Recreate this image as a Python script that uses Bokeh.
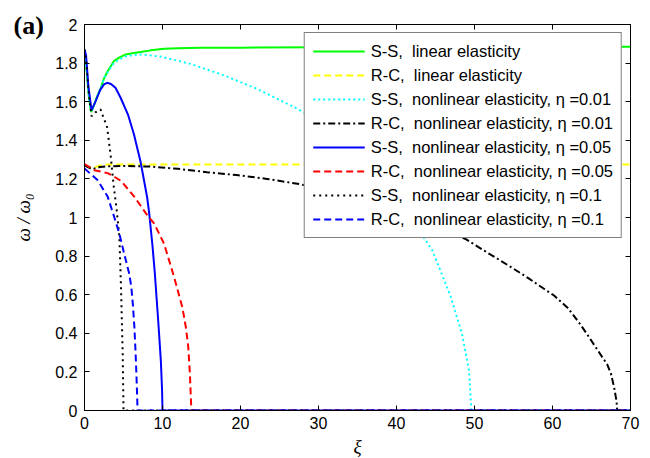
from bokeh.plotting import figure
from bokeh.models import LinearAxis, FixedTicker
from bokeh.embed import file_html
from bokeh.resources import INLINE

# ---------------- data ----------------
x_ticks = [0, 10, 20, 30, 40, 50, 60, 70]
y_ticks = [0, 0.2, 0.4, 0.6, 0.8, 1.0, 1.2, 1.4, 1.6, 1.8, 2.0]
y_tick_labels = ["0", "0.2", "0.4", "0.6", "0.8", "1", "1.2", "1.4", "1.6", "1.8", "2"]

# S-S, linear elasticity
ss_lin_x = [0, 0.2, 0.4, 0.6, 0.86, 1.2, 1.6, 2.05, 2.5, 3.0, 3.76, 4.5, 5.3, 6.3, 7.2, 8.5, 10.2, 12, 14.9, 20, 30, 40, 50, 60, 70]
ss_lin_y = [1.87, 1.80, 1.70, 1.61, 1.546, 1.58, 1.625, 1.667, 1.72, 1.76, 1.81, 1.83, 1.845, 1.852, 1.857, 1.866, 1.874, 1.877, 1.879, 1.88, 1.882, 1.883, 1.884, 1.885, 1.885]

# R-C, linear elasticity
rc_lin_x = [0, 1, 2, 3, 70]
rc_lin_y = [1.27, 1.255, 1.27, 1.275, 1.275]

# S-S, nonlinear, eta = 0.01
ss_001_x = [0, 0.2, 0.4, 0.6, 0.86, 1.2, 1.6, 2.05, 2.5, 3.0, 3.76, 4.5, 5.3, 6.3, 7.2, 9.74, 13.6, 17.9, 22.1, 27.3, 30, 33, 36, 39, 42, 44.6, 46.9, 48.4, 49.3, 49.6, 70]
ss_001_y = [1.87, 1.80, 1.70, 1.61, 1.546, 1.58, 1.625, 1.667, 1.72, 1.755, 1.80, 1.82, 1.835, 1.842, 1.845, 1.834, 1.796, 1.736, 1.667, 1.563, 1.50, 1.41, 1.30, 1.16, 0.99, 0.829, 0.596, 0.397, 0.207, 0.0, 0.0]

# R-C, nonlinear, eta = 0.01
rc_001_x = [0, 0.5, 1, 2, 3, 5, 8.46, 12, 15.7, 19.5, 23.4, 27.3, 32, 37, 42, 46, 49, 51.2, 53, 55, 57, 59, 60.2, 62, 63.5, 64.4, 65.5, 66.4, 67.0, 67.5, 67.9, 68.2, 68.3, 70]
rc_001_y = [1.27, 1.26, 1.25, 1.262, 1.265, 1.267, 1.264, 1.252, 1.235, 1.22, 1.20, 1.175, 1.135, 1.085, 1.02, 0.945, 0.885, 0.829, 0.785, 0.735, 0.683, 0.628, 0.596, 0.53, 0.45, 0.397, 0.33, 0.275, 0.24, 0.19, 0.12, 0.05, 0.0, 0.0]

# S-S, nonlinear, eta = 0.05
ss_005_x = [0, 0.2, 0.5, 0.9, 1.4, 2.0, 2.5, 2.9, 3.4, 3.97, 4.6, 5.6, 6.32, 7.18, 8.03, 8.3, 8.7, 9.0, 9.45, 9.79, 9.95, 10.0, 70]
ss_005_y = [1.87, 1.84, 1.68, 1.555, 1.60, 1.66, 1.69, 1.698, 1.692, 1.672, 1.623, 1.53, 1.434, 1.29, 1.105, 1.02, 0.86, 0.72, 0.465, 0.257, 0.10, 0.0, 0.0]

# R-C, nonlinear, eta = 0.05
rc_005_x = [0, 1.28, 2.98, 4.68, 6.4, 7.9, 8.94, 10.2, 11.5, 12.55, 13.0, 13.3, 13.5, 13.62, 13.7, 70]
rc_005_y = [1.277, 1.245, 1.23, 1.19, 1.107, 1.02, 0.968, 0.864, 0.69, 0.534, 0.43, 0.33, 0.2, 0.08, 0.0, 0.0]

# S-S, nonlinear, eta = 0.1
ss_01_x = [0, 0.2, 0.5, 0.9, 1.4, 2.05, 2.9, 3.33, 3.76, 4.1, 4.47, 4.68, 4.9, 5.0, 70]
ss_01_y = [1.87, 1.82, 1.66, 1.525, 1.545, 1.56, 1.468, 1.33, 1.157, 1.05, 0.9, 0.64, 0.29, 0.0, 0.0]

# R-C, nonlinear, eta = 0.1
rc_01_x = [0, 1.7, 2.98, 3.83, 4.47, 5.1, 5.74, 6.0, 6.2, 6.4, 6.55, 6.68, 6.76, 6.8, 70]
rc_01_y = [1.254, 1.193, 1.107, 1.0, 0.916, 0.81, 0.708, 0.64, 0.55, 0.43, 0.3, 0.16, 0.06, 0.0, 0.0]

NB = "\u00a0"
labels = [
    "S-S," + NB + " linear elasticity",
    "R-C," + NB + " linear elasticity",
    "S-S," + NB + " nonlinear elasticity, \u03b7 =0.01",
    "R-C," + NB + " nonlinear elasticity, \u03b7 =0.01",
    "S-S," + NB + " nonlinear elasticity, \u03b7 =0.05",
    "R-C," + NB + " nonlinear elasticity, \u03b7 =0.05",
    "S-S," + NB + " nonlinear elasticity, \u03b7 =0.1",
    "R-C," + NB + " nonlinear elasticity, \u03b7 =0.1",
]

# ---------------- figure ----------------
SANS = "Liberation Sans"
SERIF = "Liberation Serif"

p = figure(frame_width=546, frame_height=386, x_range=(0, 70), y_range=(0, 2),
           output_backend="svg", toolbar_location=None,
           min_border_left=84, min_border_right=12, min_border_top=24, min_border_bottom=48)
p.background_fill_color = "white"
p.border_fill_color = "white"
p.xgrid.visible = False
p.ygrid.visible = False
p.outline_line_color = "black"
p.outline_line_width = 1

# panel tag "(a)" as the plot title, pushed into the left margin
p.title.text = "(a)"
p.title.align = "left"
p.title.offset = -71
p.title.standoff = -30
p.title.text_line_height = 1.5
p.title.text_font = SERIF
p.title.text_font_style = "bold"
p.title.text_font_size = "26px"
p.title.text_color = "black"

series = [
    (ss_lin_x, ss_lin_y, "#00ff00", "solid"),
    (rc_lin_x, rc_lin_y, "#ffff00", "7 4"),
    (ss_001_x, ss_001_y, "#00ffff", "2 3"),
    (rc_001_x, rc_001_y, "black", "7 3 2 3"),
    (ss_005_x, ss_005_y, "#0000ff", "solid"),
    (rc_005_x, rc_005_y, "#ff0000", "7 4"),
    (ss_01_x, ss_01_y, "black", "2 4"),
    (rc_01_x, rc_01_y, "#0000ff", "7 4"),
]
for (xs, ys, col, dash), lab in zip(series, labels):
    p.line(xs, ys, line_color=col, line_width=2, line_dash=dash, legend_label=lab)

overrides = {t: l for t, l in zip(y_ticks, y_tick_labels)}

def style_axis(ax):
    ax.axis_line_color = "black"
    ax.axis_line_width = 1
    ax.major_tick_line_color = "black"
    ax.major_tick_in = 5
    ax.major_tick_out = 0
    ax.minor_tick_line_color = None
    ax.major_label_text_font = SANS
    ax.major_label_text_font_size = "16px"
    ax.major_label_text_color = "black"

p.xaxis.ticker = FixedTicker(ticks=x_ticks)
p.yaxis.ticker = FixedTicker(ticks=y_ticks)
p.yaxis.major_label_overrides = overrides
for ax in (p.xaxis[0], p.yaxis[0]):
    style_axis(ax)
p.xaxis.major_label_standoff = 6
p.yaxis.major_label_standoff = 7
p.xaxis.axis_label = "\u03be"
p.yaxis.axis_label = "\u03c9 / \u03c9\u2080"
for ax in (p.xaxis[0], p.yaxis[0]):
    ax.axis_label_text_font = SERIF
    ax.axis_label_text_font_style = "italic"
    ax.axis_label_text_color = "black"
p.xaxis.axis_label_text_font_size = "19px"
p.yaxis.axis_label_text_font_size = "19px"
p.xaxis.axis_label_standoff = 4
p.yaxis.axis_label_standoff = 18

top = LinearAxis(ticker=FixedTicker(ticks=x_ticks))
right = LinearAxis(ticker=FixedTicker(ticks=y_ticks))
for ax in (top, right):
    style_axis(ax)
    ax.major_label_text_color = None
    ax.major_label_standoff = 0
p.add_layout(top, "above")
p.add_layout(right, "right")

leg = p.legend[0]
leg.location = "top_right"
leg.margin = 8
leg.padding = 8
leg.spacing = 4
leg.label_height = 20
leg.glyph_height = 20
leg.glyph_width = 52
leg.label_standoff = 6
leg.label_text_font = SANS
leg.label_text_font_size = "16.5px"
leg.label_text_color = "black"
leg.border_line_color = "black"
leg.border_line_width = 1
leg.background_fill_color = "white"
leg.background_fill_alpha = 1.0

open("out.html", "w").write(file_html(p, INLINE))
